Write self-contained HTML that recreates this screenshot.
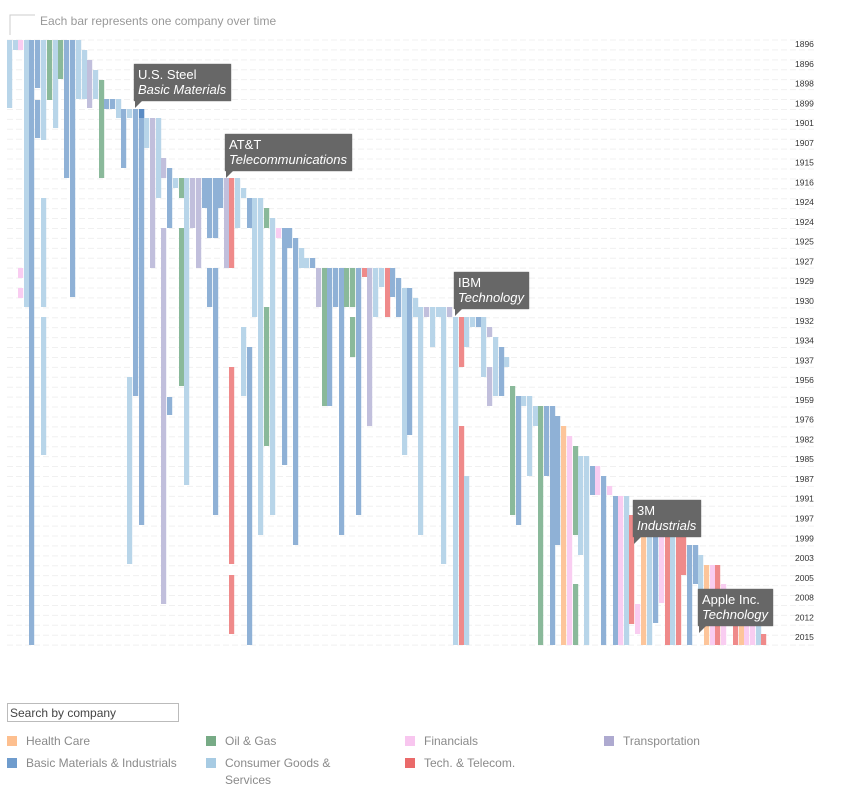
<!DOCTYPE html>
<html><head><meta charset="utf-8">
<style>
body{margin:0;background:#fff;width:853px;height:787px;overflow:hidden;font-family:"Liberation Sans",sans-serif;}
#wrap{position:relative;width:853px;height:787px;}
.tip{position:absolute;background:#676767;color:#fff;font-size:13px;line-height:15px;padding:3px 5px 4px 4px;white-space:nowrap;box-shadow:0 0 1px #555;}
.tip i{font-style:italic;}
.tip:after{content:"";position:absolute;left:1px;bottom:-7px;border-left:0 solid transparent;border-right:7px solid transparent;border-top:7px solid #676767;}
.leg{position:absolute;font-size:12px;color:#8a8a8a;line-height:17px;}
.sw{position:absolute;width:10px;height:10px;}
</style></head><body><div id="wrap">
<svg id="s" width="853" height="787" style="position:absolute;left:0;top:0">
<polyline points="10,35 10,15 35,15" fill="none" stroke="#ccc" stroke-width="1"/>
<text x="40" y="25" font-size="12" fill="#999" font-family="Liberation Sans, sans-serif">Each bar represents one company over time</text>
<g id="grid"></g><g id="bars"></g><g id="yrs" font-size="8.5" fill="#333" font-family="Liberation Sans, sans-serif"></g>
</svg>
<div class="tip" style="left:134px;top:64px;">U.S. Steel<br><i>Basic Materials</i></div>
<div class="tip" style="left:225px;top:134px;">AT&amp;T<br><i>Telecommunications</i></div>
<div class="tip" style="left:454px;top:272px;">IBM<br><i>Technology</i></div>
<div class="tip" style="left:633px;top:500px;">3M<br><i>Industrials</i></div>
<div class="tip" style="left:698px;top:589px;">Apple Inc.<br><i>Technology</i></div>
<div style="position:absolute;left:7px;top:703px;height:19px;border:1px solid #bbb;font-size:12px;color:#444;line-height:18px;padding-left:2px;box-sizing:border-box;width:172px;">Search by company</div>
<div class="sw" style="left:7px;top:736px;background:#fdbf8f"></div><div class="leg" style="left:26px;top:733px">Health Care</div>
<div class="sw" style="left:206px;top:736px;background:#77ab86"></div><div class="leg" style="left:225px;top:733px">Oil &amp; Gas</div>
<div class="sw" style="left:405px;top:736px;background:#f8c6ef"></div><div class="leg" style="left:424px;top:733px">Financials</div>
<div class="sw" style="left:604px;top:736px;background:#aeaad0"></div><div class="leg" style="left:623px;top:733px">Transportation</div>
<div class="sw" style="left:7px;top:758px;background:#6f9ccd"></div><div class="leg" style="left:26px;top:755px">Basic Materials &amp; Industrials</div>
<div class="sw" style="left:206px;top:758px;background:#a7cbe3"></div><div class="leg" style="left:225px;top:755px;width:130px">Consumer Goods &amp;<br>Services</div>
<div class="sw" style="left:405px;top:758px;background:#ea6a6a"></div><div class="leg" style="left:424px;top:755px">Tech. &amp; Telecom.</div>
</div>
<script>
var C={L:"#b8d5e9",B:"#8fb1d6",G:"#8ab99a",P:"#c1bfdc",K:"#f9cdf1",R:"#ef8a8a",O:"#fdc59a"};
var D=[
[7,"L",40,108],[13,"L",40,50],[18,"K",40,50,268,278,288,298],[24,"L",40,307],[29,"B",40,645],[35,"B",40,88,100,138],
[41,"L",40,140,198,307,317,455],[47,"G",40,100],[53,"L",40,128],[58,"G",40,79],[64,"B",40,178],[70,"B",40,297],
[76,"L",40,99],[82,"L",50,99],[87,"P",60,108],[93,"L",70,99],[99,"G",80,178],[104,"B",99,109],[110,"B",99,109],
[116,"L",99,118],[121,"B",109,168],[127,"L",109,118,377,564],[133,"B",109,396],[139,"B",109,525],[144,"L",118,148],
[150,"P",118,268],[156,"L",118,198],[161,"P",158,178,228,604],[167,"B",168,228,397,415],[173,"L",178,188],
[179,"G",178,198,228,386],[184,"L",178,485],[190,"P",178,228],[196,"P",178,268],[202,"B",178,208],[207,"B",178,238,268,307],
[213,"B",178,238,268,515],[218,"B",178,208],[224,"P",178,268],[229,"R",178,268,367,564,575,634],[235,"L",178,228],
[241,"L",188,198,327,396],[247,"B",198,228,347,645],[252,"L",198,317],[258,"L",198,535],[264,"G",208,228,307,446],
[270,"L",218,515],[276,"K",228,238],[282,"B",228,465],[287,"B",228,248],[293,"B",238,545],[299,"L",248,268],
[304,"L",258,268],[310,"B",258,268],[316,"P",268,307],[322,"G",268,406],[327,"B",268,406],[333,"B",268,307],
[339,"B",268,535],[344,"G",268,307],[350,"G",268,307,317,357],[356,"B",268,515],[362,"R",268,277],[367,"P",268,426],
[373,"L",268,317],[379,"L",268,287],[385,"R",268,317],[390,"B",268,297],[396,"B",278,317],[402,"L",288,455],
[407,"B",288,298,298,435],[413,"L",298,317],[418,"L",307,535],[424,"P",307,317],[430,"L",307,347],[436,"L",307,317],
[441,"L",307,564],[447,"P",307,317],[453,"L",317,645],[459,"R",317,367,426,645],[464,"L",317,347,476,645],
[470,"L",317,327],[476,"B",317,327],[481,"L",317,377],[487,"P",327,337,367,406],[493,"L",337,396],[499,"B",347,396],
[504,"L",357,367],[510,"G",386,515],[516,"B",396,525],[521,"L",396,406],[527,"L",396,476],[533,"L",406,426],
[538,"G",406,645],[544,"B",406,476],[550,"B",406,645],[555,"B",416,545],[561,"O",426,645],[567,"K",436,645],
[573,"G",446,535,584,645],[578,"L",456,555],[584,"L",456,645],[590,"B",466,495],[595,"K",466,495],[601,"B",476,645],
[607,"K",486,495],[613,"B",496,645],[618,"K",496,645],[624,"L",496,645],[629,"R",515,624],[635,"K",604,634],
[641,"O",515,645],[647,"L",525,645],[653,"B",525,623],[659,"K",525,603],[665,"R",535,645],[670,"L",535,645],
[676,"R",535,645],[681,"R",535,575],[687,"B",545,645],[693,"B",545,584],[698,"L",555,594],[704,"O",565,645],
[710,"K",565,645],[715,"R",565,645],[721,"K",584,645],[727,"B",594,620],[733,"R",604,645],[739,"O",614,645],
[744,"K",624,645],[750,"K",624,645],[756,"L",624,645],[761,"R",634,645]];
var NS="http://www.w3.org/2000/svg",g=document.getElementById("grid"),b=document.getElementById("bars"),y=document.getElementById("yrs");
function el(p,t,a){var e=document.createElementNS(NS,t);for(var k in a)e.setAttribute(k,a[k]);p.appendChild(e);return e;}
for(var i=0;i<=61;i++){var yy=40+i*9.92;el(g,"line",{x1:7,x2:815,y1:yy,y2:yy,stroke:"#f0f0f0","stroke-dasharray":"6,3","stroke-width":1});}
D.forEach(function(d){for(var j=2;j<d.length;j+=2){el(b,"rect",{x:d[0],y:d[j],width:5.2,height:d[j+1]-d[j],fill:C[d[1]]});}});
el(b,"rect",{x:139,y:109,width:5.2,height:9,fill:"#5b8cc4"});
var Y=[1896,1896,1898,1899,1901,1907,1915,1916,1924,1924,1925,1927,1929,1930,1932,1934,1937,1956,1959,1976,1982,1985,1987,1991,1997,1999,2003,2005,2008,2012,2015];
Y.forEach(function(v,i){var t=el(y,"text",{x:795,y:47+i*19.77});t.textContent=v;});
</script>
</body></html>
